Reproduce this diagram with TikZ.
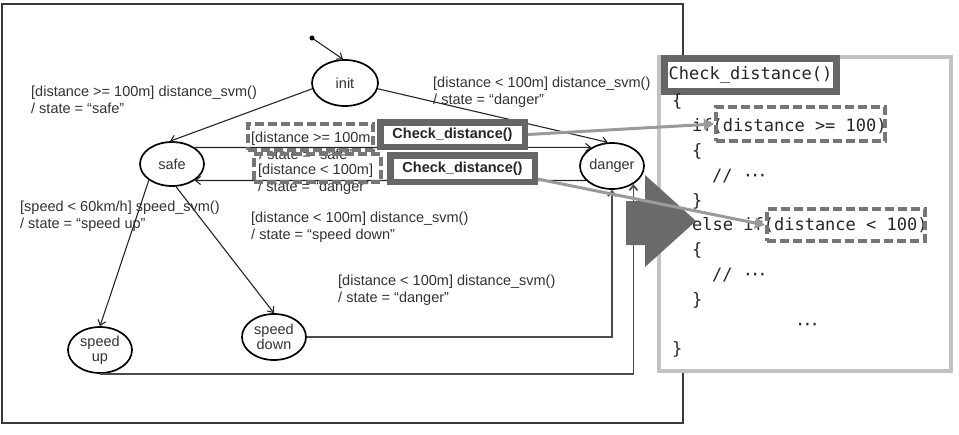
\documentclass[tikz,border=0pt]{standalone}
\usepackage{fontspec}
\setmainfont{Liberation Sans}
\newfontfamily\codefont{DejaVu Sans Mono}
\usetikzlibrary{shapes.geometric,arrows.meta}
\definecolor{framecol}{HTML}{3A3A3A}
\definecolor{txtcol}{HTML}{333333}
\definecolor{dashcol}{HTML}{767676}
\definecolor{boxcol}{HTML}{666666}
\definecolor{codeframe}{HTML}{C2C2C2}
\definecolor{linkcol}{HTML}{9A9A9A}
\definecolor{bigcol}{HTML}{6A6A6A}
\newcommand\lblfont{\fontsize{14.5}{17}\selectfont}
\newcommand\codesz{\codefont\fontsize{17}{20}\selectfont}
\newcommand\mdots{\textperiodcentered\kern-3pt\textperiodcentered\kern-3pt\textperiodcentered}
\begin{document}
\begin{tikzpicture}[x=1pt,y=-1pt,
  state/.style={ellipse, draw=black, line width=1.7pt, minimum width=64pt, minimum height=46pt, inner sep=0pt, font=\lblfont, text=txtcol, align=center},
  trans/.style={draw=black!85, line width=1.1pt, -{Straight Barb[length=5pt,width=8pt]}},
  back/.style={draw=black!70, line width=1.7pt, -{Straight Barb[length=5pt,width=8pt]}},
  lbl/.style={anchor=north west, align=left, inner sep=0pt, font=\lblfont, text=txtcol},
  dashbox/.style={draw=dashcol, line width=4pt, dash pattern=on 9pt off 4pt, inner sep=0pt},
  checkbox/.style={draw=boxcol, line width=6.5pt, fill=white, inner sep=0pt, font=\lblfont\bfseries, text=black!85},
  codeline/.style={anchor=base west, inner sep=0pt, font=\codesz, text=black!85},
  link/.style={draw=linkcol, line width=3pt, -{Triangle[length=10pt,width=11pt]}}
]
\useasboundingbox (0,0) rectangle (959,434);
\fill[white] (0,0) rectangle (959,434);

% frames
\draw[framecol, line width=2.5pt] (2,4) rectangle (683,423);
\draw[codeframe, fill=white, line width=4.5pt] (659,57) rectangle (951,371);

% states
\node[circle, fill=black, inner sep=0pt, minimum size=5pt] (start) at (312,38) {};
\node[state, minimum width=66pt] (init) at (345,83) {init};
\node[state, minimum height=44pt] (safe) at (172,164) {safe};
\node[state] (danger) at (612,166) {danger};
\node[state] (su) at (100,350) {speed\\[-2pt]up};
\node[state] (sd) at (274,337) {speed\\[-2pt]down};

% transitions
\draw[trans] (start) -- (init.95);
\draw[trans] (init.190) -- (safe.95);
\draw[trans] (init.350) -- (danger.100);
\draw[trans] (safe.36) -- (danger.138);
\draw[trans] (danger.209) -- (safe.324);
\draw[trans] (safe.215) -- (su.north);
\draw[trans] (safe.280) -- (sd.north);
\draw[back] (sd.east) -| (danger.south);
\draw[back] (su.south) -| (danger.320);

% labels
\node[lbl] (l1) at (31,85.4) {[distance >= 100m] distance\_svm()\\/ state = “safe”};
\node[lbl] (l2) at (433,76.4) {[distance < 100m] distance\_svm()\\/ state = “danger”};
\node[lbl] (l3) at (20,200.4) {[speed < 60km/h] speed\_svm()\\/ state = “speed up”};
\node[lbl] (l4) at (251,211.4) {[distance < 100m] distance\_svm()\\/ state = “speed down”};
\node[lbl] (l5) at (338,274.4) {[distance < 100m] distance\_svm()\\/ state = “danger”};
\node[lbl] (la) at (251,131.4) {[distance >= 100m\\\hspace*{8pt}/ state = “safe”};
\node[lbl] (lb) at (258,163.4) {[distance < 100m]\\/ state = “danger”};

% highlight boxes on the left
\node[dashbox, minimum width=125pt, minimum height=26pt] (dA) at (310.5,137) {};
\node[dashbox, minimum width=127pt, minimum height=28pt] (dB) at (317.5,168) {};
\node[checkbox, minimum width=144.5pt, minimum height=24.5pt] (bA) at (452.5,134.5) {Check\_distance()};
\node[checkbox, minimum width=144.5pt, minimum height=26.5pt] (bB) at (462.5,168.5) {Check\_distance()};

% code
\node[draw=boxcol, line width=7pt, fill=white, inner sep=0pt, minimum width=172pt, minimum height=33pt, font=\codesz, text=black!85] (ch) at (750.5,75) {Check\_distance()};
\node[codeline] (c1) at (672,106.8) {\{};
\node[codeline] (c2) at (692,131.6) {if(distance >= 100)};
\node[codeline] (c3) at (692,156.4) {\{};
\node[codeline] (c4) at (712,181.2) {// \mdots};
\node[codeline] (c5) at (692,206) {\}};
\node[codeline] (c6) at (692,230.8) {else if(distance < 100)};
\node[codeline] (c7) at (692,255.6) {\{};
\node[codeline] (c8) at (712,280.4) {// \mdots};
\node[codeline] (c9) at (692,305.2) {\}};
\node[codeline] (c10) at (795,330) {\mdots};
\node[codeline] (c11) at (672,354.8) {\}};
\node[dashbox, minimum width=169pt, minimum height=34pt] (cdA) at (800.5,124) {};
\node[dashbox, minimum width=158pt, minimum height=32pt] (cdB) at (846,225) {};

% big arrow
\fill[bigcol] (626,201) -- (645,201) -- (645,175) -- (696,221) -- (645,267) -- (645,245) -- (626,245) -- cycle;

% links
\draw[link] (bA.east) -- (cdA.west);
\draw[link] (bB.-8) -- (cdB.west);
\end{tikzpicture}
\end{document}
